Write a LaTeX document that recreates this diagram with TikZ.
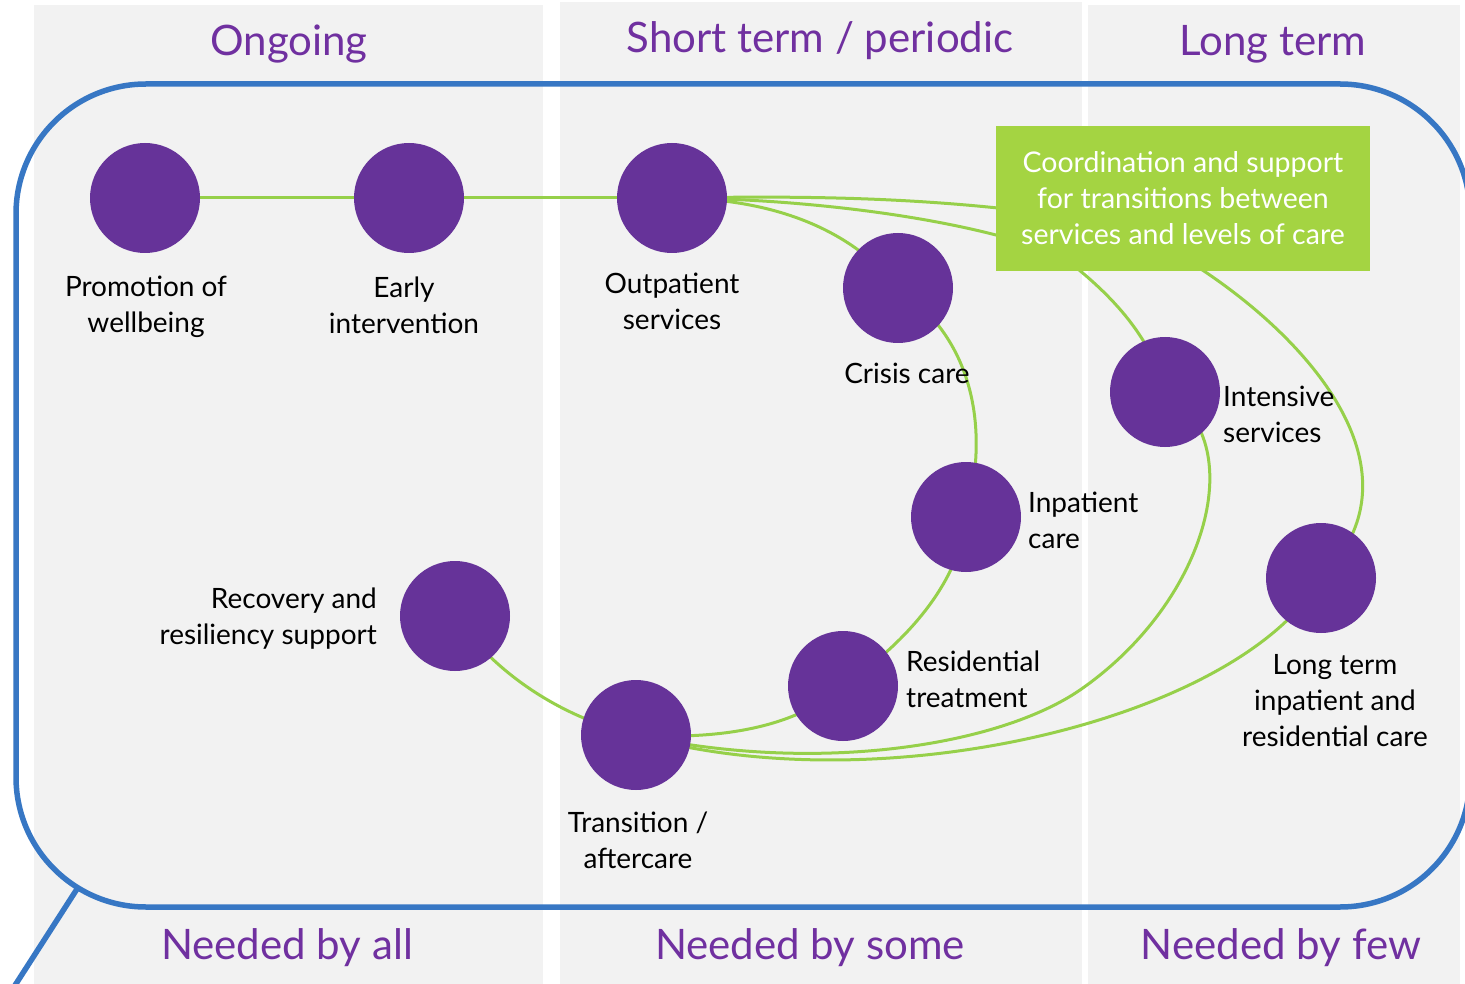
\documentclass[tikz,border=0pt]{standalone}
\usepackage{fontspec}
\setmainfont{Lato}
\pgfdeclarelayer{panels}
\pgfdeclarelayer{links}
\pgfsetlayers{panels,links,main}
\definecolor{panelgray}{HTML}{F2F2F2}
\definecolor{framblue}{HTML}{3777C4}
\definecolor{dotpurple}{HTML}{663399}
\definecolor{headpurple}{HTML}{7030A0}
\definecolor{linkgreen}{HTML}{96D04A}
\definecolor{boxgreen}{HTML}{A4D442}
\begin{document}
\begin{tikzpicture}[x=1pt,y=-1pt,
  panel/.style={fill=panelgray},
  frameline/.style={draw=framblue,line width=5.5pt},
  dot/.style={circle,fill=dotpurple,minimum size=110pt,inner sep=0pt},
  link/.style={draw=linkgreen,line width=3pt},
  lbl/.style={font=\fontsize{28}{36}\selectfont,text=black,inner sep=0pt},
  head/.style={font=\fontsize{42}{48}\selectfont,text=headpurple,inner sep=0pt},
  gbox/.style={fill=boxgreen,text=white,minimum width=374pt,minimum height=145pt,align=center,inner sep=0pt,font=\fontsize{28.5}{36}\selectfont}]
\useasboundingbox (0,0) rectangle (1465,984);
\begin{pgfonlayer}{panels}
\fill[white] (0,0) rectangle (1465,984);
\fill[panel] (34,5) rectangle (543,984);
\fill[panel] (560,2) rectangle (1082,984);
\fill[panel] (1088,5) rectangle (1460,984);
\draw[frameline,rounded corners=130pt] (16,84) rectangle (1470,907);
\coordinate (tailA) at (77,889);
\coordinate (tailB) at (12,990);
\draw[frameline] (tailA) -- (tailB);
\end{pgfonlayer}

% headers
\node[head] (h1) at (289,44) {Ongoing};
\node[head] (h2) at (820,41) {Short term / periodic};
\node[head] (h3) at (1273,44) {Long term};
\node[head] (f1) at (287,948) {Needed by all};
\node[head] (f2) at (810,948) {Needed by some};
\node[head] (f3) at (1281,948) {Needed by few};

% dots
\node[dot] (P) at (145,198) {};
\node[dot] (E) at (409,198) {};
\node[dot] (O) at (672,198) {};
\node[dot] (C) at (898,288) {};
\node[dot] (I) at (1165,392) {};
\node[dot] (N) at (966,517) {};
\node[dot] (L) at (1321,578) {};
\node[dot] (R) at (455,616) {};
\node[dot] (S) at (843,686) {};
\node[dot] (T) at (636,735) {};

% hidden waypoints behind the green box
\coordinate (wA) at (1120,225);
\coordinate (wB) at (1060,255);
\coordinate (wI) at (1080,690);

\begin{pgfonlayer}{links}
\draw[link] (P.center) -- (E.center);
\draw[link] (E.center) -- (O.center);
\draw[link] (O.center) .. controls (760,198) and (845,222) .. (C.center);
\draw[link] (C.center) .. controls (968,335) and (992,420) .. (N.center);
\draw[link] (N.center) .. controls (960,580) and (910,640) .. (S.center);
\draw[link] (S.center) .. controls (795,728) and (720,740) .. (T.center);
\draw[link] (T.center) .. controls (570,720) and (500,680) .. (R.center);
\draw[link] (O.center) .. controls (780,198) and (950,213) .. (wB)
   .. controls (1100,285) and (1150,330) .. (I.center);
\draw[link] (O.center) .. controls (800,196) and (950,195) .. (wA)
   .. controls (1250,280) and (1450,450) .. (L.center);
\draw[link] (I.center) .. controls (1250,440) and (1210,600) .. (wI)
   .. controls (1000,745) and (820,775) .. (T.center);
\draw[link] (L.center) .. controls (1240,720) and (880,805) .. (T.center);
\end{pgfonlayer}

\node[gbox] (B) at (1183,198.5) {Coordination and support\\for transitions between\\services and levels of care};

% labels
\node[lbl,align=center] (lP) at (146,307) {Promotion of\\wellbeing};
\node[lbl,align=center] (lE) at (404,305) {Early\\intervention};
\node[lbl,align=center] (lO) at (672,301) {Outpatient\\services};
\node[lbl,align=center] (lC) at (907,373) {Crisis care};
\node[lbl,align=left,anchor=west] (lI) at (1223,414) {Intensive\\services};
\node[lbl,align=left,anchor=west] (lN) at (1028,520) {Inpatient\\care};
\node[lbl,align=right,anchor=east] (lR) at (377,619) {Recovery and\\resiliency support};
\node[lbl,align=left,anchor=west] (lS) at (906,679) {Residential\\treatment};
\node[lbl,align=center] (lT) at (638,840) {Transition /\\aftercare};
\node[lbl,align=center] (lL) at (1335,701) {Long term\\inpatient and\\residential care};
\end{tikzpicture}
\end{document}
